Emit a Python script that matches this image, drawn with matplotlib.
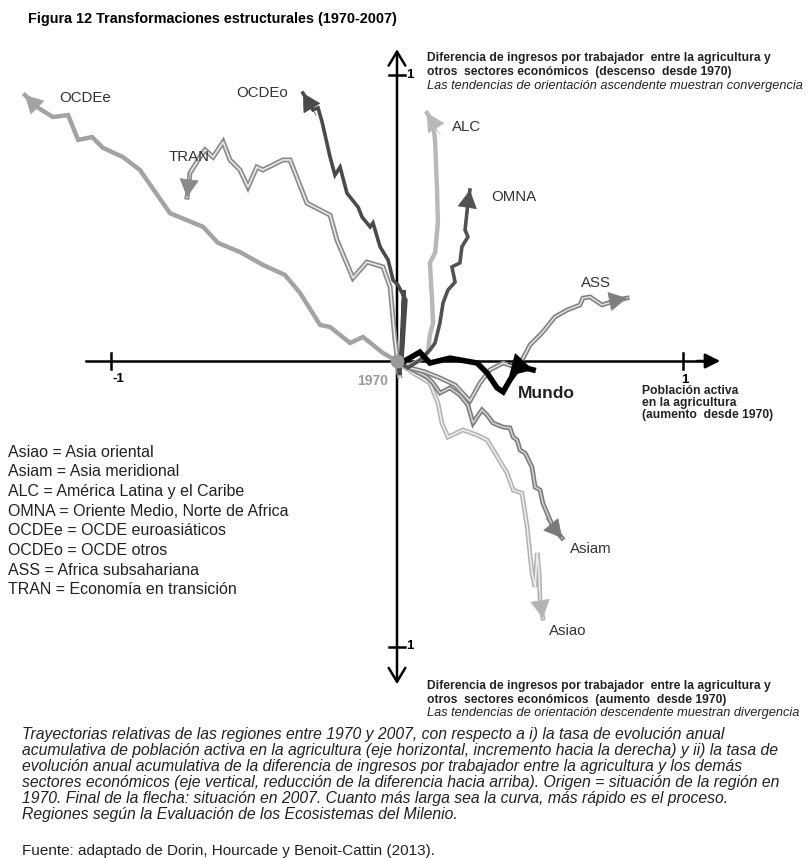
import matplotlib
matplotlib.use("Agg")
import matplotlib.pyplot as plt
import matplotlib.patheffects as pe
from matplotlib.patches import FancyArrowPatch
import numpy as np

plt.rcParams['font.family'] = ['Liberation Sans', 'DejaVu Sans']

# trajectories 1970-2007 (x: active agricultural population, y: income gap reduction)
ocdee_x = [0, -0.049, -0.119, -0.164, -0.234, -0.269, -0.339, -0.392, -0.469, -0.549, -0.626, -0.678, -0.794, -0.899, -0.958, -1.028, -1.066, -1.115, -1.150, -1.203, -1.259, -1.301]
ocdee_y = [0, 0.028, 0.084, 0.063, 0.119, 0.126, 0.238, 0.301, 0.336, 0.381, 0.413, 0.469, 0.517, 0.668, 0.713, 0.745, 0.783, 0.773, 0.860, 0.853, 0.888, 0.930]

tran_x = [0, 0.010, -0.007, -0.024, -0.049, -0.105, -0.154, -0.210, -0.234, -0.315, -0.374, -0.399, -0.469, -0.490, -0.521, -0.549, -0.584, -0.608, -0.643, -0.671, -0.689, -0.724, -0.734]
tran_y = [0, -0.060, 0.073, 0.259, 0.329, 0.346, 0.290, 0.423, 0.510, 0.552, 0.703, 0.703, 0.668, 0.678, 0.608, 0.668, 0.703, 0.766, 0.713, 0.738, 0.713, 0.657, 0.573]

ocdeo_x = [0, 0.010, 0.024, 0.017, 0.031, 0.003, -0.014, -0.031, -0.059, -0.084, -0.094, -0.122, -0.136, -0.175, -0.199, -0.217, -0.234, -0.262, -0.276, -0.294, -0.329]
ocdeo_y = [0, -0.049, 0.248, 0.003, 0.213, 0.266, 0.283, 0.353, 0.399, 0.483, 0.469, 0.503, 0.538, 0.587, 0.678, 0.650, 0.713, 0.836, 0.885, 0.878, 0.937]

alc_x = [0, 0.028, 0.080, 0.108, 0.115, 0.126, 0.122, 0.115, 0.133, 0.143, 0.140, 0.133, 0.126, 0.105]
alc_y = [0, -0.024, 0.003, 0.031, 0.091, 0.133, 0.224, 0.343, 0.378, 0.483, 0.598, 0.773, 0.832, 0.867]

omna_x = [0, 0.038, 0.080, 0.115, 0.133, 0.150, 0.161, 0.178, 0.203, 0.192, 0.220, 0.227, 0.248, 0.238, 0.248, 0.255]
omna_y = [0, -0.024, 0.003, 0.038, 0.063, 0.133, 0.203, 0.248, 0.276, 0.329, 0.343, 0.399, 0.434, 0.458, 0.552, 0.598]

ass_x = [0, 0.045, 0.098, 0.150, 0.203, 0.255, 0.290, 0.325, 0.371, 0.413, 0.441, 0.465, 0.507, 0.524, 0.552, 0.594, 0.612, 0.640, 0.650, 0.675, 0.717, 0.769, 0.804]
ass_y = [0, -0.024, -0.038, -0.059, -0.084, -0.140, -0.077, -0.031, -0.007, -0.021, 0.010, 0.056, 0.098, 0.119, 0.154, 0.178, 0.185, 0.196, 0.220, 0.224, 0.196, 0.213, 0.220]

asiam_x = [0, 0.056, 0.105, 0.126, 0.150, 0.185, 0.220, 0.248, 0.266, 0.280, 0.297, 0.315, 0.336, 0.371, 0.395, 0.406, 0.420, 0.430, 0.448, 0.472, 0.483, 0.500, 0.510, 0.545, 0.577]
asiam_y = [0, -0.031, -0.056, -0.077, -0.112, -0.094, -0.119, -0.154, -0.217, -0.196, -0.171, -0.189, -0.217, -0.231, -0.234, -0.266, -0.276, -0.311, -0.322, -0.371, -0.441, -0.451, -0.497, -0.580, -0.619]

asiao_x = [0, 0.056, 0.115, 0.143, 0.157, 0.178, 0.231, 0.280, 0.315, 0.343, 0.385, 0.406, 0.437, 0.455, 0.472, 0.483, 0.490, 0.497, 0.500, 0.510]
asiao_y = [0, -0.042, -0.077, -0.147, -0.217, -0.266, -0.241, -0.259, -0.276, -0.322, -0.392, -0.451, -0.462, -0.580, -0.741, -0.790, -0.671, -0.741, -0.836, -0.899]

mundo_x = [0, 0.021, 0.080, 0.115, 0.185, 0.280, 0.315, 0.350, 0.371, 0.395, 0.420, 0.437, 0.476]
mundo_y = [0, -0.003, 0.031, -0.007, 0.010, -0.007, -0.042, -0.094, -0.108, -0.066, -0.031, -0.021, -0.031]

legend_lines = [
    "Asiao = Asia oriental",
    "Asiam = Asia meridional",
    "ALC = América Latina y el Caribe",
    "OMNA = Oriente Medio, Norte de Africa",
    "OCDEe = OCDE euroasiáticos",
    "OCDEo = OCDE otros",
    "ASS = Africa subsahariana",
    "TRAN = Economía en transición",
]

caption_lines = [
    "Trayectorias relativas de las regiones entre 1970 y 2007, con respecto a i) la tasa de evolución anual",
    "acumulativa de población activa en la agricultura (eje horizontal, incremento hacia la derecha) y ii) la tasa de",
    "evolución anual acumulativa de la diferencia de ingresos por trabajador entre la agricultura y los demás",
    "sectores económicos (eje vertical, reducción de la diferencia hacia arriba). Origen = situación de la región en",
    "1970. Final de la flecha: situación en 2007. Cuanto más larga sea la curva, más rápido es el proceso.",
    "Regiones según la Evaluación de los Ecosistemas del Milenio.",
]

W, H = 811, 858


def fx(x):
    return x / W


def fy(y):
    return 1 - y / H


fig = plt.figure(figsize=(W / 100, H / 100), dpi=100)
ax = fig.add_axes([0, 0, 1, 1])
ax.set_xlim(-397 / 286, (W - 397) / 286)
ax.set_ylim((361 - H) / 286, 361 / 286)
ax.axis('off')

# axes with arrows
ax.plot([-1.087, 1.10], [0, 0], color='black', lw=1.8, zorder=2)
ax.add_patch(FancyArrowPatch((1.05, 0), (1.13, 0), arrowstyle='-|>,head_length=0.5,head_width=0.25',
                             color='black', lw=1.8, mutation_scale=18, shrinkA=0, shrinkB=0))
ax.add_patch(FancyArrowPatch((0, -1.13), (0, 1.09), arrowstyle='<->,head_length=0.5,head_width=0.3',
                             color='black', lw=1.8, mutation_scale=20, shrinkA=0, shrinkB=0))
for t in (-1, 1):
    ax.plot([t, t], [-0.028, 0.028], color='black', lw=1.8)
    ax.plot([-0.028, 0.028], [t, t], color='black', lw=1.8)


def trajectory(xs, ys, color, lw, inner=None, z=3, head=22):
    if inner:
        ax.plot(xs, ys, color=inner, lw=lw * 0.35, zorder=z, solid_joinstyle='miter',
                path_effects=[pe.Stroke(linewidth=lw, foreground=color), pe.Normal()])
    else:
        ax.plot(xs, ys, color=color, lw=lw, zorder=z, solid_joinstyle='miter')
    # arrow head pointing along the last segment
    dx, dy = xs[-1] - xs[-2], ys[-1] - ys[-2]
    n = np.hypot(dx, dy)
    start = (xs[-1] - dx / n * 0.09, ys[-1] - dy / n * 0.09)
    ax.add_patch(FancyArrowPatch(start, (xs[-1], ys[-1]),
                                 arrowstyle='-|>,head_length=0.55,head_width=0.3',
                                 facecolor=color, edgecolor=color, lw=0.5, mutation_scale=head,
                                 shrinkA=0, shrinkB=0, zorder=z + 0.5))


trajectory(ocdee_x, ocdee_y, '#a3a3a3', 3.2)
trajectory(tran_x, tran_y, '#8a8a8a', 3.6, inner='#e6e6e6')
trajectory(ocdeo_x, ocdeo_y, '#4a4a4a', 2.6)
trajectory(asiao_x, asiao_y, '#b3b3b3', 3.4, inner='#ececec')
trajectory(asiam_x, asiam_y, '#7a7a7a', 3.4, inner='#cfcfcf')
trajectory(ass_x, ass_y, '#7f7f7f', 3.4, inner='#dedede')
trajectory(alc_x, alc_y, '#b8b8b8', 3.2)
trajectory(omna_x, omna_y, '#525252', 2.6)
trajectory(mundo_x, mundo_y, '#000000', 4.0, z=5, head=27)

ax.plot([0], [0], 'o', color='#9a9a9a', ms=9, zorder=6)

lab = dict(ha='center', va='center', fontsize=10.8, color='#333333')
fig.text(fx(85), fy(98), 'OCDEe', **lab)
fig.text(fx(262), fy(93), 'OCDEo', **lab)
fig.text(fx(189), fy(157), 'TRAN', **lab)
fig.text(fx(467), fy(127), 'ALC', **lab)
fig.text(fx(514), fy(197), 'OMNA', **lab)
fig.text(fx(596), fy(283), 'ASS', **lab)
fig.text(fx(546), fy(394), 'Mundo', ha='center', va='center', fontsize=12.5,
         fontweight='bold', color='#222222')
fig.text(fx(591), fy(549), 'Asiam', **lab)
fig.text(fx(568), fy(631), 'Asiao', **lab)
fig.text(fx(373), fy(381), '1970', ha='center', va='center', fontsize=10,
         fontweight='bold', color='#999999')

tick = dict(ha='center', va='center', fontsize=9.5, fontweight='bold')
fig.text(fx(118), fy(379), '-1', **tick)
fig.text(fx(685), fy(380), '1', **tick)
fig.text(fx(410), fy(75), '1', **tick)
fig.text(fx(410), fy(646), '1', **tick)

fig.text(fx(28), fy(19), 'Figura 12 Transformaciones estructurales (1970-2007)',
         fontsize=10.4, fontweight='bold', va='center')

small = dict(fontsize=8.7, fontweight='bold', va='center', color='#222222')
fig.text(fx(427), fy(58), 'Diferencia de ingresos por trabajador  entre la agricultura y', **small)
fig.text(fx(427), fy(72), 'otros  sectores económicos  (descenso  desde 1970)', **small)
fig.text(fx(427), fy(86), 'Las tendencias de orientación ascendente muestran convergencia',
         fontsize=9.2, style='italic', va='center', color='#222222')

fig.text(fx(427), fy(686), 'Diferencia de ingresos por trabajador  entre la agricultura y', **small)
fig.text(fx(427), fy(700), 'otros  sectores económicos  (aumento  desde 1970)', **small)
fig.text(fx(427), fy(713), 'Las tendencias de orientación descendente muestran divergencia',
         fontsize=9.2, style='italic', va='center', color='#222222')

fig.text(fx(642), fy(391), 'Población activa', **small)
fig.text(fx(642), fy(403), 'en la agricultura', **small)
fig.text(fx(642), fy(415), '(aumento  desde 1970)', **small)

for i, s in enumerate(legend_lines):
    fig.text(fx(8), fy(452 + i * 19.7), s, fontsize=11.5, va='center', color='#222222')

for i, s in enumerate(caption_lines):
    fig.text(fx(22), fy(735 + i * 15.8), s, fontsize=11.3, style='italic', va='center',
             color='#222222')
fig.text(fx(22), fy(851), 'Fuente: adaptado de Dorin, Hourcade y Benoit-Cattin (2013).',
         fontsize=11, va='center', color='#222222')

fig.savefig('out.png', dpi=100)
